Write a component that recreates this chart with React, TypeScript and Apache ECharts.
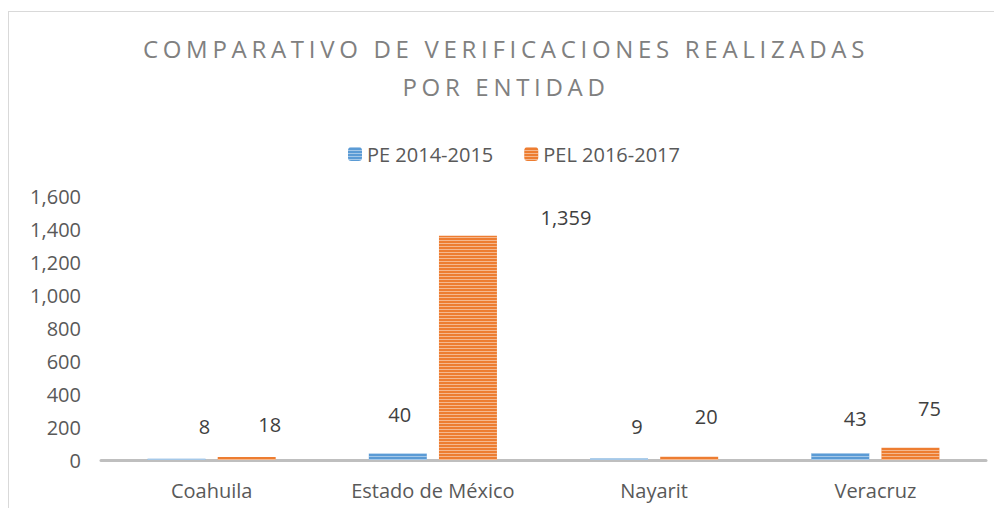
import React, { useEffect, useRef } from "react";
import * as echarts from "echarts";

const categories = ["Coahuila", "Estado de México", "Nayarit", "Veracruz"];
const seriesNames = ["PE 2014-2015", "PEL 2016-2017"];
const pe2014 = [8, 40, 9, 43];
const pel2016 = [18, 1359, 20, 75];
const yTicks = [0, 200, 400, 600, 800, 1000, 1200, 1400, 1600];

// label placement tweaks (styling only), [dx, dy] per bar
const peLabelOffsets = [[28, -17], [2, -24], [18, -17], [15, -19]];
const pelLabelOffsets = [[23, -18], [98, -3], [17, -25], [19, -24]];

const FONT = "'Open Sans', 'Liberation Sans', sans-serif";
const FS = 20;

export default function App() {
  const ref = useRef<HTMLDivElement>(null);
  useEffect(() => {
    if (!ref.current) return;
    const chart = echarts.init(ref.current, undefined, { renderer: "svg" });
    const fmt = (v: number) => v.toLocaleString("en-US");
    const mk = (vals: number[], offs: number[][]) =>
      vals.map((v, i) => ({ value: v, label: { offset: offs[i] } }));
    const decal = {
      symbol: "rect",
      symbolSize: 1,
      dashArrayX: [1, 0],
      dashArrayY: [1, 2],
      color: "rgba(255,255,255,0.45)",
      rotation: 0,
    };
    const labelCfg = {
      show: true,
      position: "top",
      distance: 5,
      fontFamily: FONT,
      fontSize: FS,
      color: "#404040",
      formatter: (p: any) => fmt(p.value),
    };
    chart.setOption({
      animation: false,
      title: {
        text: "COMPARATIVO DE VERIFICACIONES REALIZADAS\nPOR ENTIDAD",
        left: 492,
        textAlign: "center",
        top: 12,
        textStyle: {
          fontFamily: FONT,
          fontSize: 24,
          lineHeight: 38,
          fontWeight: "normal",
          color: "#808080",
        },
      },
      legend: {
        left: 334,
        top: 127,
        itemWidth: 14,
        itemHeight: 14,
        itemGap: 31,
        data: seriesNames,
        textStyle: { fontFamily: FONT, fontSize: FS, color: "#595959" },
      },
      grid: { left: 92, right: 16, top: 184, bottom: 48, containLabel: false },
      xAxis: {
        type: "category",
        data: categories,
        axisLine: { lineStyle: { color: "#bfbfbf", width: 3 } },
        axisTick: { show: false },
        axisLabel: {
          interval: 0,
          hideOverlap: false,
          margin: 20,
          fontFamily: FONT,
          fontSize: FS,
          color: "#595959",
        },
      },
      yAxis: {
        type: "value",
        min: yTicks[0],
        max: yTicks[yTicks.length - 1],
        interval: yTicks[1] - yTicks[0],
        axisLine: { show: false },
        axisTick: { show: false },
        splitLine: { show: false },
        axisLabel: {
          margin: 20,
          fontFamily: FONT,
          fontSize: FS,
          color: "#595959",
          formatter: (v: number) => fmt(v),
        },
      },
      series: [
        {
          name: seriesNames[0],
          type: "bar",
          data: mk(pe2014, peLabelOffsets),
          barWidth: "26.2%",
          barGap: "21%",
          itemStyle: { color: "#5b9bd5", decal },
          label: labelCfg,
        },
        {
          name: seriesNames[1],
          type: "bar",
          data: mk(pel2016, pelLabelOffsets),
          barWidth: "26.2%",
          barGap: "21%",
          itemStyle: { color: "#ed7d31", decal },
          label: labelCfg,
        },
      ],
    });
    // letter-spaced title like the reference
    const texts = ref.current.querySelectorAll("text");
    texts.forEach((t) => {
      const c = t.textContent || "";
      if (c.startsWith("COMPARATIVO") || c === "POR ENTIDAD") {
        t.setAttribute("letter-spacing", "4.7");
      }
    });
    return () => chart.dispose();
  }, []);
  return (
    <div
      style={{
        marginTop: 3,
        borderLeft: "1px solid #d9d9d9",
        borderTop: "1px solid #d9d9d9",
        width: 993,
        height: 496,
      }}
    >
      <div ref={ref} style={{ width: 993, height: 496 }} />
    </div>
  );
}
